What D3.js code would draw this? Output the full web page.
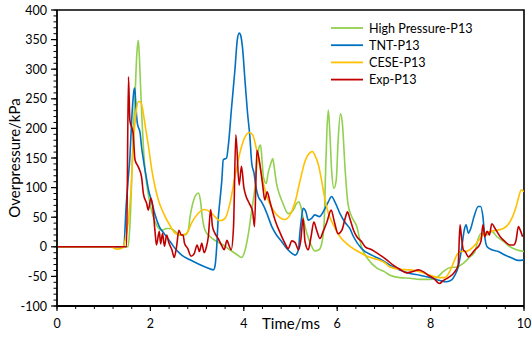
<!DOCTYPE html>
<html><head><meta charset="utf-8">
<script src="https://cdnjs.cloudflare.com/ajax/libs/d3/7.8.5/d3.min.js"></script>
<style>body{margin:0;background:#fff}svg text{font-family:Lato,"Open Sans",sans-serif;fill:#000}</style>
</head><body><svg id="c" width="532" height="338"></svg>
<script>
const seriesNames = ["High Pressure-P13","TNT-P13","CESE-P13","Exp-P13"];
const seriesColors = ["#92D050","#0070C0","#FFC000","#C00000"];
const xTicks = [0,2,4,6,8,10];
const yTicks = [-100,-50,0,50,100,150,200,250,300,350,400];

const highPressure = [[0,0],[1.52,0],[1.56,34],[1.60,113],[1.63,186],[1.67,253],[1.71,327],[1.74,349],[1.76,327],[1.79,270],[1.82,214],[1.85,169],[1.88,135],[1.93,101],[1.99,73],[2.06,51],[2.13,37],[2.24,28],[2.35,31],[2.42,31],[2.53,26],[2.63,20],[2.74,20],[2.81,28],[2.85,51],[2.90,71],[2.97,87],[3.03,91],[3.07,79],[3.11,51],[3.17,28],[3.28,17],[3.42,9],[3.56,3],[3.70,-5],[3.85,-13],[3.95,-18],[4.03,-5],[4.10,23],[4.17,62],[4.24,101],[4.29,147],[4.33,169],[4.36,172],[4.39,147],[4.42,118],[4.48,107],[4.52,124],[4.58,141],[4.62,149],[4.65,135],[4.70,107],[4.78,85],[4.85,71],[4.95,56],[5.06,62],[5.13,73],[5.18,76],[5.22,68],[5.28,45],[5.35,23],[5.44,3],[5.52,-7],[5.61,-5],[5.67,6],[5.72,40],[5.75,124],[5.78,197],[5.81,231],[5.84,197],[5.88,130],[5.93,99],[5.98,113],[6.02,180],[6.07,225],[6.11,209],[6.17,130],[6.23,73],[6.31,51],[6.42,34],[6.52,0],[6.67,-22],[6.85,-36],[7.01,-42],[7.13,-48],[7.34,-52],[7.56,-53],[7.77,-55],[7.99,-55],[8.13,-52],[8.27,-42],[8.42,-35],[8.56,-34],[8.70,-28],[8.84,-17],[8.95,-8],[9.02,14],[9.09,23],[9.20,20],[9.31,26],[9.42,17],[9.56,9],[9.70,0],[9.84,-5],[10.0,-8]];

const tnt = [[0,0],[1.43,0],[1.48,68],[1.52,110],[1.56,150],[1.60,215],[1.65,265],[1.665,268],[1.69,237],[1.72,209],[1.78,192],[1.81,169],[1.85,147],[1.91,118],[1.96,96],[2.03,76],[2.10,54],[2.19,34],[2.28,24],[2.38,13],[2.42,9],[2.53,-3],[2.67,-14],[2.85,-22],[3.03,-29],[3.20,-35],[3.35,-39],[3.38,-34],[3.42,0],[3.45,45],[3.49,79],[3.53,113],[3.56,147],[3.63,150],[3.67,172],[3.74,237],[3.81,299],[3.86,349],[3.90,361],[3.93,358],[3.97,338],[4.03,276],[4.08,226],[4.13,186],[4.17,141],[4.22,124],[4.26,101],[4.31,85],[4.38,76],[4.45,65],[4.52,51],[4.60,34],[4.70,20],[4.81,9],[4.92,-3],[5.03,-11],[5.10,-14],[5.17,-5],[5.20,23],[5.24,51],[5.27,65],[5.33,59],[5.38,45],[5.45,48],[5.52,54],[5.62,51],[5.70,59],[5.81,76],[5.88,85],[5.95,76],[6.06,56],[6.17,41],[6.27,31],[6.35,17],[6.52,-3],[6.74,-14],[6.95,-22],[7.13,-31],[7.34,-39],[7.56,-45],[7.77,-48],[7.99,-52],[8.20,-57],[8.34,-59],[8.45,-56],[8.52,-48],[8.59,-34],[8.66,-5],[8.72,28],[8.76,37],[8.81,23],[8.86,31],[8.93,51],[9.02,68],[9.07,68],[9.12,51],[9.16,17],[9.21,0],[9.31,-5],[9.45,-8],[9.59,-14],[9.74,-19],[9.88,-23],[10.0,-22]];

const cese = [[0,0],[1.15,0],[1.28,-4],[1.40,-2],[1.46,11],[1.53,45],[1.58,90],[1.63,169],[1.69,225],[1.74,245],[1.79,245],[1.83,234],[1.88,209],[1.96,169],[2.03,130],[2.10,101],[2.17,79],[2.28,57],[2.42,36],[2.53,23],[2.67,20],[2.78,23],[2.88,40],[3.03,57],[3.15,63],[3.28,59],[3.38,51],[3.49,44],[3.60,48],[3.70,72],[3.81,118],[3.92,160],[4.03,186],[4.12,193],[4.19,189],[4.26,169],[4.33,141],[4.42,107],[4.52,79],[4.63,62],[4.76,50],[4.88,46],[4.99,54],[5.10,76],[5.20,110],[5.31,144],[5.42,159],[5.47,161],[5.52,155],[5.60,138],[5.67,110],[5.74,79],[5.81,57],[5.92,37],[6.06,17],[6.24,3],[6.45,-8],[6.67,-17],[6.88,-22],[7.02,-27],[7.13,-34],[7.34,-38],[7.56,-39],[7.77,-42],[7.99,-48],[8.17,-52],[8.31,-52],[8.42,-40],[8.50,-25],[8.56,-14],[8.63,-8],[8.74,-8],[8.84,-5],[8.95,3],[9.06,14],[9.16,23],[9.27,26],[9.42,28],[9.56,31],[9.70,42],[9.81,62],[9.88,82],[9.94,96],[10.0,93]];

const exp = [[0,0],[1.49,0],[1.53,287],[1.56,214],[1.63,192],[1.67,147],[1.74,135],[1.81,118],[1.85,90],[1.92,73],[1.955,62],[2.01,82],[2.05,68],[2.10,25],[2.13,3],[2.19,26],[2.22,5],[2.26,23],[2.30,1],[2.35,20],[2.39,8],[2.46,-5],[2.51,-18],[2.56,0],[2.61,28],[2.66,20],[2.70,20],[2.73,6],[2.80,-3],[2.87,-16],[2.94,-11],[3.00,3],[3.05,-8],[3.10,6],[3.15,-10],[3.20,0],[3.24,17],[3.29,63],[3.33,34],[3.38,23],[3.45,14],[3.54,0],[3.58,-5],[3.64,11],[3.68,3],[3.73,-5],[3.78,34],[3.83,189],[3.90,104],[3.95,136],[4.00,101],[4.05,85],[4.12,73],[4.19,59],[4.23,34],[4.28,163],[4.33,147],[4.40,107],[4.45,79],[4.50,93],[4.56,76],[4.67,45],[4.78,23],[4.88,6],[4.95,-3],[5.03,10],[5.10,7],[5.17,-5],[5.22,11],[5.27,48],[5.31,9],[5.38,-5],[5.44,17],[5.50,42],[5.56,28],[5.63,14],[5.70,26],[5.78,42],[5.87,62],[5.94,42],[6.02,22],[6.10,28],[6.17,48],[6.22,59],[6.27,48],[6.35,28],[6.42,17],[6.52,9],[6.60,0],[6.74,-5],[6.88,-12],[7.06,-22],[7.20,-31],[7.34,-38],[7.49,-44],[7.60,-42],[7.74,-39],[7.84,-42],[7.95,-48],[8.06,-53],[8.19,-62],[8.27,-57],[8.38,-52],[8.52,-42],[8.59,-31],[8.63,37],[8.66,17],[8.70,-5],[8.74,-8],[8.81,-17],[8.88,-12],[8.95,-5],[9.02,0],[9.08,10],[9.12,37],[9.16,17],[9.21,26],[9.26,20],[9.31,39],[9.38,31],[9.49,17],[9.59,9],[9.70,3],[9.78,3],[9.83,11],[9.88,34],[9.93,26],[9.97,17]];

const allSeries = [highPressure, tnt, cese, exp];

const svg = d3.select("#c");
const L = 57, R = 524, T = 10, B = 306;
const x = d3.scaleLinear().domain([0,10]).range([L,R]);
const y = d3.scaleLinear().domain([-100,400]).range([B,T]);

svg.append("path").attr("d",`M${L},${T}H${R}V${B}`).attr("fill","none").attr("stroke","#000").attr("stroke-width",1.6);

const line = d3.line().x(d=>x(d[0])).y(d=>y(d[1])).curve(d3.curveMonotoneX);
svg.append("clipPath").attr("id","pc").append("rect").attr("x",L).attr("y",T).attr("width",R-L).attr("height",B-T);
const g = svg.append("g").attr("clip-path","url(#pc)");
allSeries.forEach((s,i)=>{
  g.append("path").attr("d",line(s)).attr("fill","none").attr("stroke",seriesColors[i]).attr("stroke-width",1.6).attr("stroke-linejoin","round");
});

const yMinor = d3.range(-100,401,10);
const ya = svg.append("g");
ya.selectAll("line.mi").data(yMinor).join("line").attr("x1",L-3.5).attr("x2",L).attr("y1",d=>y(d)).attr("y2",d=>y(d)).attr("stroke","#000").attr("stroke-width",1);
ya.selectAll("line.ma").data(yTicks).join("line").attr("x1",L-6).attr("x2",L).attr("y1",d=>y(d)).attr("y2",d=>y(d)).attr("stroke","#000").attr("stroke-width",1.2);
ya.selectAll("text").data(yTicks).join("text").attr("x",47).attr("y",d=>y(d)).attr("dy","0.36em").attr("text-anchor","end").attr("font-size",12.5).text(d=>d);
ya.append("line").attr("x1",L).attr("x2",L).attr("y1",T).attr("y2",B).attr("stroke","#000").attr("stroke-width",1.8);

const xMinor = d3.range(0,10.01,0.4);
const xa = svg.append("g");
xa.selectAll("line.mi").data(xMinor).join("line").attr("x1",d=>x(d)).attr("x2",d=>x(d)).attr("y1",B).attr("y2",B+3).attr("stroke","#000").attr("stroke-width",1);
xa.selectAll("line.ma").data(xTicks).join("line").attr("x1",d=>x(d)).attr("x2",d=>x(d)).attr("y1",B).attr("y2",B+5).attr("stroke","#000").attr("stroke-width",1.2);
xa.selectAll("text").data(xTicks).join("text").attr("x",d=>x(d)).attr("y",328).attr("text-anchor","middle").attr("font-size",12.5).text(d=>d);
xa.append("line").attr("x1",L).attr("x2",R).attr("y1",B).attr("y2",B).attr("stroke","#000").attr("stroke-width",1.8);

svg.append("text").attr("x",291).attr("y",329).attr("text-anchor","middle").attr("font-size",15).text("Time/ms");
svg.append("text").attr("transform","translate(20,158) rotate(-90)").attr("text-anchor","middle").attr("font-size",15).text("Overpressure/kPa");

const lg = svg.append("g");
seriesNames.forEach((n,i)=>{
  const yy = 28 + i*17.2;
  lg.append("line").attr("x1",331).attr("x2",363).attr("y1",yy).attr("y2",yy).attr("stroke",seriesColors[i]).attr("stroke-width",1.8);
  lg.append("text").attr("x",369).attr("y",yy).attr("dy","0.36em").attr("font-size",12.6).text(n);
});
</script></body></html>
